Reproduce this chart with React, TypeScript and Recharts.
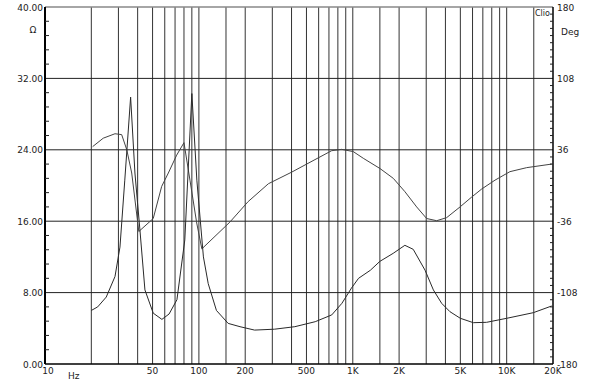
import React from 'react';
import { LineChart, Line, XAxis, YAxis, ReferenceLine } from 'recharts';

// Impedance magnitude (Hz, Ohm)
const impFreq = [20, 22, 25, 28.5, 30.7, 33, 36, 38.4, 41.4, 44.6, 50.5, 57.5, 64, 72, 81, 90, 97, 107, 115, 130, 155, 185, 230, 310, 420, 570, 730, 850, 980, 1090, 1300, 1500, 1830, 2180, 2470, 2950, 3340, 3780, 4280, 5000, 6070, 7400, 10000, 14900, 19600];
const impOhm = [6.0, 6.4, 7.5, 9.8, 13.1, 20.6, 29.9, 21.4, 15.0, 8.3, 5.7, 5.0, 5.6, 7.2, 13.9, 30.3, 20.6, 12.0, 9.0, 6.0, 4.55, 4.18, 3.8, 3.9, 4.18, 4.74, 5.5, 6.8, 8.5, 9.6, 10.5, 11.5, 12.4, 13.3, 12.85, 10.5, 8.3, 6.8, 5.86, 5.12, 4.63, 4.67, 5.12, 5.75, 6.5];

// Phase (Hz, degrees)
const phaseFreq = [20.4, 23.9, 28.5, 31.5, 34, 36.6, 40.7, 50.5, 57.3, 63.3, 71.7, 80, 87.5, 96.8, 104.5, 159, 209, 283, 401, 568, 729, 847, 1007, 1170, 1503, 1834, 2183, 2600, 3020, 3508, 4074, 4977, 5918, 6873, 8396, 10500, 13490, 19600];
const phaseDeg = [39.2, 47.7, 52.2, 51.3, 36, 12.6, -46.4, -33.3, -0.9, 12.6, 30.6, 43.2, 5.4, -37.8, -63.9, -36.9, -16.2, 1.8, 13.5, 26.1, 35.1, 36.45, 34.2, 27.45, 17.1, 7.2, -6.3, -21.6, -33.3, -35.5, -32.4, -21.6, -11.7, -3.6, 5.4, 13.95, 18, 21.6];

const xTicks = [10, 50, 100, 200, 500, 1000, 2000, 5000, 10000, 20000];
const xTickLabels = ['10', '50', '100', '200', '500', '1K', '2K', '5K', '10K', '20K'];
const gridFreqs = [20, 30, 40, 50, 60, 70, 80, 90, 100, 150, 200, 300, 400, 500, 600, 700, 800, 900, 1000, 1500, 2000, 3000, 4000, 5000, 6000, 7000, 8000, 9000, 10000, 15000];
const gridOhms = [8, 16, 24, 32];
const leftMajor = [0, 8, 16, 24, 32, 40];
const rightMajor = [-180, -108, -36, 36, 108, 180];

const impData = impFreq.map((f, i) => ({ f, v: impOhm[i] }));
const phaseData = phaseFreq.map((f, i) => ({ f, v: phaseDeg[i] }));

const leftTicks = Array.from({ length: 26 }, (_, i) => Math.round(i * 16) / 10);
const rightTicks = Array.from({ length: 51 }, (_, i) => Math.round((-180 + i * 7.2) * 10) / 10);

const W = 600;
const H = 382;
const LEFT_W = 45;
const RIGHT_W = 47;
const PLOT_LEFT = LEFT_W;
const PLOT_RIGHT = W - RIGHT_W;
const FONT = '"DejaVu Sans", Verdana, sans-serif';

const LeftTick = (props: any) => {
  const { x, y, payload } = props;
  const v = payload.value;
  if (leftMajor.some((m) => Math.abs(m - v) < 1e-6)) {
    return (
      <text x={x} y={y} dy={3.5} textAnchor="end" fontSize={9} fontFamily={FONT} fill="#222">
        {v.toFixed(2)}
      </text>
    );
  }
  return <line x1={PLOT_LEFT} x2={PLOT_LEFT + 4} y1={y} y2={y} stroke="#222" strokeWidth={1} />;
};

const RightTick = (props: any) => {
  const { x, y, payload } = props;
  const v = payload.value;
  if (rightMajor.some((m) => Math.abs(m - v) < 1e-6)) {
    return (
      <text x={x} y={y} dy={3.5} textAnchor="start" fontSize={9} fontFamily={FONT} fill="#222">
        {String(Math.round(v))}
      </text>
    );
  }
  return <line x1={PLOT_RIGHT - 3} x2={PLOT_RIGHT} y1={y} y2={y} stroke="#222" strokeWidth={1} />;
};

const XTick = (props: any) => {
  const { x, y, payload } = props;
  const idx = xTicks.indexOf(payload.value);
  const label = idx >= 0 ? xTickLabels[idx] : String(payload.value);
  return (
    <text x={x + (payload.value === 10 ? 3 : 0)} y={y} dy={6} textAnchor="middle" fontSize={9} fontFamily={FONT} fill="#222">
      {label}
    </text>
  );
};

export default function App() {
  return (
    <div style={{ position: 'absolute', left: 0, top: 0, width: W, height: H, background: '#fff' }}>
      <LineChart width={W} height={H} margin={{ top: 7, right: 0, bottom: 0, left: 0 }}>
        <XAxis
          xAxisId="x"
          type="number"
          dataKey="f"
          scale="log"
          domain={[10, 20000]}
          allowDataOverflow
          ticks={xTicks}
          interval={0}
          height={18}
          tickSize={0}
          tickMargin={4}
          tick={<XTick />}
          axisLine={{ stroke: '#000', strokeWidth: 1.5 }}
          tickLine={false}
        />
        <YAxis
          yAxisId="left"
          orientation="left"
          type="number"
          domain={[0, 40]}
          ticks={leftTicks}
          interval={0}
          width={LEFT_W}
          tickSize={0}
          tickMargin={2}
          tick={<LeftTick />}
          tickLine={false}
          axisLine={{ stroke: '#000', strokeWidth: 2 }}
        />
        <YAxis
          yAxisId="right"
          orientation="right"
          type="number"
          domain={[-180, 180]}
          ticks={rightTicks}
          interval={0}
          width={RIGHT_W}
          tickSize={0}
          tickMargin={4}
          tick={<RightTick />}
          tickLine={false}
          axisLine={{ stroke: '#000', strokeWidth: 1.5 }}
        />
        {gridFreqs.map((f) => (
          <ReferenceLine key={'gx' + f} x={f} xAxisId="x" yAxisId="left" stroke="#333" strokeWidth={1} />
        ))}
        {gridOhms.map((v) => (
          <ReferenceLine key={'gy' + v} y={v} xAxisId="x" yAxisId="left" stroke="#222" strokeWidth={1} />
        ))}
        <ReferenceLine y={40} xAxisId="x" yAxisId="left" stroke="#888" strokeWidth={1.5} />
        <Line
          data={phaseData}
          dataKey="v"
          xAxisId="x"
          yAxisId="right"
          type="linear"
          stroke="#444"
          strokeWidth={1}
          dot={false}
          isAnimationActive={false}
        />
        <Line
          data={impData}
          dataKey="v"
          xAxisId="x"
          yAxisId="left"
          type="linear"
          stroke="#2a2a2a"
          strokeWidth={1}
          dot={false}
          isAnimationActive={false}
        />
        <text x={33} y={33} textAnchor="middle" fontSize={9} fontFamily={FONT} fill="#222">Ω</text>
        <text x={561} y={35} textAnchor="start" fontSize={9} fontFamily={FONT} fill="#222">Deg</text>
        <text x={535} y={16} textAnchor="start" fontSize={8} fontFamily={FONT} fill="#222">Clio</text>
        <text x={68} y={379} textAnchor="start" fontSize={9} fontFamily={FONT} fill="#222">Hz</text>
      </LineChart>
    </div>
  );
}
